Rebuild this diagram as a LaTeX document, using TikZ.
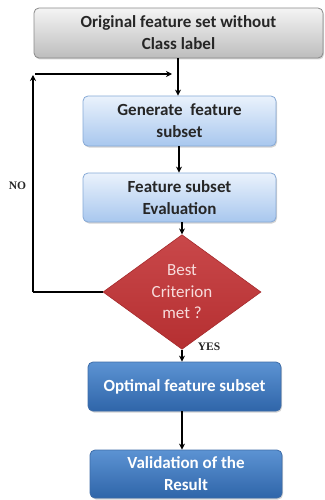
\documentclass[tikz,border=0pt]{standalone}
\usepackage{fontspec}
\setmainfont{Carlito}
\newfontfamily\serifb{Liberation Serif}
\usetikzlibrary{arrows.meta,shapes.geometric,shadows}
\definecolor{grayT}{HTML}{F4F4F4}
\definecolor{grayB}{HTML}{BDBDBD}
\definecolor{grayD}{HTML}{8A8A8A}
\definecolor{lbT}{HTML}{EAF2FC}
\definecolor{lbB}{HTML}{A8C7EE}
\definecolor{lbD}{HTML}{86A9D6}
\definecolor{dbT}{HTML}{5C93D3}
\definecolor{dbB}{HTML}{2F65A9}
\definecolor{dbD}{HTML}{3D6CA8}
\definecolor{redT}{HTML}{C9484A}
\definecolor{redB}{HTML}{B52F31}
\definecolor{redD}{HTML}{A52A2C}
\definecolor{pinkT}{HTML}{F7DCDC}
\tikzset{
  boxbase/.style={rectangle, rounded corners=5pt, line width=0.8pt, align=center,
    font=\bfseries\fontsize{17}{22}\selectfont, inner sep=0pt,
    drop shadow={shadow xshift=1pt, shadow yshift=-1.5pt, opacity=0.35}},
  graybox/.style={boxbase, draw=grayD, top color=grayT, bottom color=grayB, text=black!85},
  lightbox/.style={boxbase, draw=lbD, top color=lbT, bottom color=lbB, text=black!85},
  darkbox/.style={boxbase, draw=dbD, top color=dbT, bottom color=dbB, text=white},
  decide/.style={diamond, draw=redD, line width=0.6pt, top color=redT, bottom color=redB,
    text=pinkT, align=center, font=\fontsize{17}{21.5}\selectfont, inner sep=0pt,
    minimum width=158pt, minimum height=90pt},
  conn/.style={line width=1.6pt, draw=black},
  arr/.style={conn, -{Stealth[length=6pt,width=6pt]}},
  lbl/.style={font=\serifb\bfseries\fontsize{11.5}{12}\selectfont, text=black!85}
}
\begin{document}
\begin{tikzpicture}[x=1pt,y=-1pt]
\useasboundingbox (0,0) rectangle (324,500);
\node[graybox, minimum width=289pt, minimum height=50pt] (b1) at (178.5,33) {Original feature set without\\Class label};
\node[lightbox, minimum width=193pt, minimum height=50pt] (b2) at (179.5,121) {Generate\ \ feature\\subset};
\node[lightbox, minimum width=193pt, minimum height=49pt] (b3) at (179.5,197.5) {Feature subset\\Evaluation};
\node[decide] (d) at (182,292) {Best\\Criterion\\met ?};
\node[darkbox, minimum width=193pt, minimum height=49pt] (b4) at (184.5,386.5) {Optimal feature subset};
\node[darkbox, minimum width=192pt, minimum height=48pt] (b5) at (186,474) {Validation of the\\Result};
\node[lbl] (no) at (17.5,186) {NO};
\node[lbl] (yes) at (209,347) {YES};
\coordinate (c0) at (33,292);
\coordinate (c1) at (33,75);
\coordinate (c2) at (35,74);
\coordinate (c3) at (172,74);
\draw[arr] (b1.south -| 178,0) -- (b2.north -| 178,0);
\draw[arr] (b2.south -| 179,0) -- (b3.north -| 179,0);
\draw[arr] (b3.south -| 182,0) -- (d.north);
\draw[arr] (d.south) -- (b4.north -| d.south);
\draw[arr] (b4.south -| d.south) -- (b5.north -| d.south);
\draw[conn] (d.west) -- (c0);
\draw[arr] (c0) -- (c1);
\draw[arr] (c2) -- (c3);
\end{tikzpicture}
\end{document}
